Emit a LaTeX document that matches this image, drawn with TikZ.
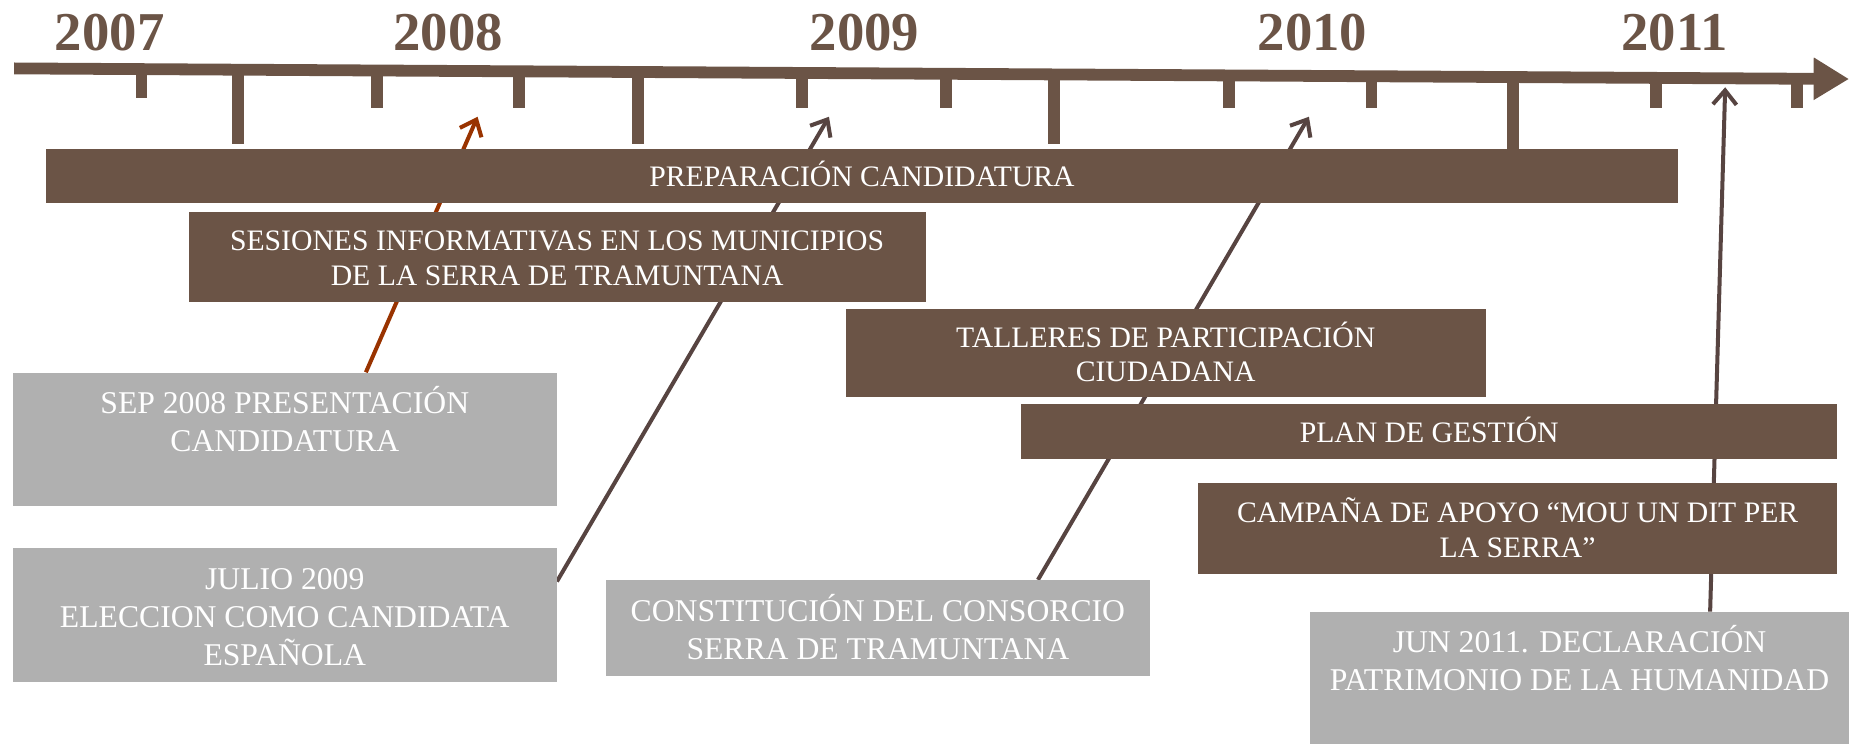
\documentclass[tikz,border=0pt]{standalone}
\usepackage{fontspec}
\setmainfont{Liberation Serif}
\usepackage{tikz}
\definecolor{tlBrown}{HTML}{6B5446}
\definecolor{tlGrey}{HTML}{B0B0B0}
\definecolor{tlRust}{HTML}{993300}
\definecolor{tlDark}{HTML}{574441}
\usetikzlibrary{arrows.meta,positioning,fit,calc,backgrounds}

\begin{document}
\begin{tikzpicture}[
  x=0.025cm, y=-0.025cm,
  >=Latex,
  phasebox/.style={fill=tlBrown, inner sep=0pt},
  eventbox/.style={fill=tlGrey, inner sep=0pt},
  boxtext/.style={
    text=white,
    align=center,
    inner sep=0pt,
    text height=0pt,
    text depth=0pt
  },
  phasetext/.style={boxtext, yshift=-0.235cm-(#1-1)*0.366cm, font=\fontsize{17.9}{20.8}\selectfont},
  phasetext/.default=1,
  eventtext/.style={boxtext, yshift=-0.265cm-(#1-1)*0.404cm, font=\fontsize{19.1}{23}\selectfont},
  eventtext/.default=1,
  yearlabel/.style={anchor=base, text=tlBrown, font=\bfseries\fontsize{33}{33}\selectfont},
  axisline/.style={draw=tlBrown, line width=0.25cm, -{Triangle[length=0.75cm,width=0.85cm]}},
  tickmark/.style={draw=tlBrown, line width=0.25cm},
  pointer/.style={draw=tlDark, line width=0.085cm, -{Straight Barb[length=0.3cm,width=0.5cm]}}
]
\useasboundingbox (0,0) rectangle (1568,631);

% Years
\node[yearlabel] (y2007) at (93,43) {2007};
\node[yearlabel] (y2008) at (380,43) {2008};
\node[yearlabel] (y2009) at (733,43) {2009};
\node[yearlabel] (y2010) at (1113,43) {2010};
\node[yearlabel] (y2011) at (1420,43) {2011};

% Ticks and axis
\foreach \tx/\ty in {120/83, 320/92, 440/92, 680/92, 802/92, 1042/92, 1163/92, 1404/92, 1524/92}
  \draw[tickmark] (\tx,{58+(\tx-12)*0.0058}) -- (\tx,\ty);
\foreach \tx/\ty in {202/122, 541/122, 894/122, 1283/127}
  \draw[tickmark] (\tx,{58+(\tx-12)*0.0058}) -- (\tx,\ty);
\draw[axisline] (12,58) -- (1568,67);

\coordinate (m2008) at (405,99);
\coordinate (m2009) at (703,99);
\coordinate (m2010) at (1110,99);
\coordinate (m2011) at (1463,74);

% Phases
\node[phasebox, fit={(39,126) (1423,172)},
  label={[phasetext]center:PREPARACIÓN CANDIDATURA}] (prep) {};
\node[phasebox, fit={(160,180) (785,256)},
  label={[phasetext=2]center:SESIONES INFORMATIVAS EN LOS MUNICIPIOS\\DE LA SERRA DE TRAMUNTANA}] (sesiones) {};
\node[phasebox, fit={(717,262) (1260,337)},
  label={[phasetext=2]center:TALLERES DE PARTICIPACIÓN\\CIUDADANA}] (talleres) {};
\node[phasebox, fit={(866,343) (1558,389)},
  label={[phasetext]center:PLAN DE GESTIÓN}] (plan) {};
\node[phasebox, fit={(1016,410) (1558,487)},
  label={[phasetext=2]center:CAMPAÑA DE APOYO “MOU UN DIT PER\\LA SERRA”}] (campana) {};

% Events
\node[eventbox, fit={(11,316) (472,429)},
  label={[eventtext=3]center:SEP 2008 PRESENTACIÓN\\CANDIDATURA\\\mbox{}}] (sep) {};
\node[eventbox, fit={(11,465) (472,578)},
  label={[eventtext=3]center:JULIO 2009\\ELECCION COMO CANDIDATA\\ESPAÑOLA}] (julio) {};
\node[eventbox, fit={(514,492) (975,573)},
  label={[eventtext=2]center:CONSTITUCIÓN DEL CONSORCIO\\SERRA DE TRAMUNTANA}] (consorcio) {};
\node[eventbox, fit={(1111,519) (1568,631)},
  label={[eventtext=3]center:JUN 2011. DECLARACIÓN\\PATRIMONIO DE LA HUMANIDAD\\\mbox{}}] (jun) {};

% Pointers
\begin{scope}[on background layer]
\draw[pointer, draw=tlRust] ($(sep.north west)!0.649!(sep.north east)$) -- (m2008);
\draw[pointer] ($(julio.north east)!0.25!(julio.south east)$) -- (m2009);
\draw[pointer] ($(consorcio.north west)!0.794!(consorcio.north east)$) -- (m2010);
\draw[pointer] ($(jun.north west)!0.742!(jun.north east)$) -- (m2011);
\end{scope}

\end{tikzpicture}
\end{document}
